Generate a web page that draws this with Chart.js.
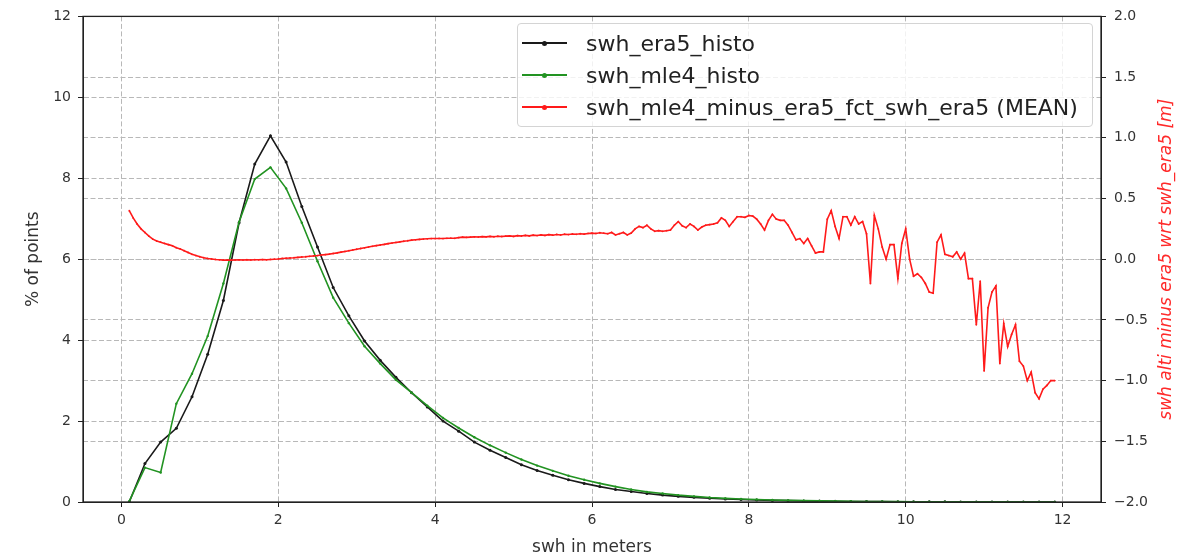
<!DOCTYPE html>
<html>
<head>
<meta charset="utf-8">
<script src="https://cdn.jsdelivr.net/npm/chart.js@4.4.1/dist/chart.umd.min.js"></script>
<style>
  html, body { margin: 0; padding: 0; background: #fff; }
  #wrap { position: relative; width: 1183px; height: 558px; }
  #legend {
    position: absolute; left: 517px; top: 23px; width: 576px; height: 104px;
    background: rgba(255,255,255,0.8); border: 1px solid #d4d4d4; border-radius: 4px;
    font-family: 'DejaVu Sans', sans-serif; font-size: 22px; color: #222;
    box-sizing: border-box;
  }
  .row { position: absolute; left: 0; height: 30px; display: flex; align-items: center; white-space: nowrap; }
  .handle { position: relative; width: 45px; height: 0; margin-left: 4px; margin-right: 19px; }
  .handle .ln { position: absolute; left: 0; right: 0; top: -0.8px; height: 1.6px; }
  .handle .dot { position: absolute; left: 20px; top: -2.5px; width: 5px; height: 5px; border-radius: 50%; }
</style>
</head>
<body>
<div id="wrap">
  <canvas id="c" width="1183" height="558"></canvas>
  <div id="legend"></div>
</div>
<script>
// Histogram bin centres (m)
const histoBins = [0.1,0.3,0.5,0.7,0.9,1.1,1.3,1.5,1.7,1.9,2.1,2.3,2.5,2.7,2.9,3.1,3.3,3.5,3.7,3.9,
  4.1,4.3,4.5,4.7,4.9,5.1,5.3,5.5,5.7,5.9,6.1,6.3,6.5,6.7,6.9,7.1,7.3,7.5,7.7,7.9,
  8.1,8.3,8.5,8.7,8.9,9.1,9.3,9.5,9.7,9.9,10.1,10.3,10.5,10.7,10.9,11.1,11.3,11.5,11.7,11.9];

// % of points per bin, ERA5 model
const swhEra5Histo = [0,0.95,1.48,1.82,2.6,3.65,4.98,6.9,8.35,9.05,8.4,7.3,6.3,5.3,4.6,3.98,3.5,3.08,2.7,2.35,
  2.0,1.75,1.48,1.28,1.1,0.92,0.78,0.66,0.55,0.46,0.38,0.31,0.26,0.21,0.17,0.14,0.115,0.095,0.075,0.06,
  0.05,0.04,0.033,0.027,0.022,0.018,0.014,0.011,0.009,0.007,0.006,0.005,0.004,0.003,0.002,0.002,0.001,0.001,0.001,0.001];

// % of points per bin, MLE4 altimetry
const swhMle4Histo = [0.02,0.85,0.73,2.43,3.17,4.1,5.4,6.92,7.98,8.27,7.75,6.9,5.95,5.05,4.42,3.85,3.42,3.02,2.7,2.38,
  2.08,1.83,1.6,1.4,1.22,1.05,0.9,0.77,0.65,0.55,0.46,0.38,0.31,0.25,0.21,0.17,0.14,0.11,0.09,0.075,
  0.06,0.05,0.04,0.033,0.027,0.022,0.018,0.014,0.011,0.009,0.007,0.006,0.005,0.004,0.003,0.002,0.002,0.001,0.001,0.001];

// Mean of (MLE4 - ERA5) in 0.05 m ERA5 bins, starting at 0.10 m
const diffBinStart = 0.1;
const diffBinStep = 0.05;
const swhDiffMean = [
  0.40,0.34,0.29,0.25,0.22,0.19,0.165,0.15,0.14,0.13,0.12,0.11,0.095,0.085,0.07,0.055,0.04,0.03,0.02,0.012,
  0.006,0.002,-0.002,-0.005,-0.008,-0.006,-0.008,-0.006,-0.005,-0.007,-0.004,-0.006,-0.004,-0.005,-0.003,-0.005,-0.002,0.0,0.002,0.006,
  0.008,0.010,0.012,0.015,0.018,0.020,0.024,0.027,0.030,0.034,0.038,0.042,0.047,0.052,0.058,0.064,0.070,0.076,0.082,0.088,
  0.094,0.100,0.106,0.112,0.117,0.122,0.128,0.133,0.138,0.143,0.148,0.152,0.157,0.160,0.163,0.166,0.168,0.170,0.170,0.171,
  0.170,0.172,0.173,0.172,0.178,0.182,0.180,0.182,0.184,0.183,0.186,0.184,0.188,0.185,0.189,0.187,0.190,0.192,0.188,0.194,
  0.191,0.196,0.192,0.198,0.195,0.200,0.196,0.202,0.198,0.204,0.200,0.206,0.203,0.208,0.205,0.210,0.207,0.212,0.215,0.212,
  0.218,0.214,0.21,0.22,0.20,0.21,0.22,0.20,0.215,0.25,0.27,0.26,0.28,0.25,0.23,0.235,0.23,0.235,0.24,0.28,
  0.31,0.275,0.26,0.29,0.27,0.24,0.265,0.28,0.285,0.29,0.30,0.34,0.32,0.27,0.31,0.35,0.35,0.345,0.36,0.355,
  0.33,0.29,0.24,0.32,0.37,0.33,0.32,0.32,0.28,0.22,0.16,0.17,0.13,0.17,0.11,0.05,0.06,0.06,0.33,0.40,
  0.27,0.17,0.35,0.35,0.28,0.35,0.29,0.31,0.21,-0.20,0.36,0.25,0.10,0.0,0.12,0.12,-0.16,0.13,0.25,0.0,
  -0.14,-0.12,-0.15,-0.20,-0.27,-0.28,0.14,0.20,0.04,0.03,0.02,0.06,0.0,0.05,-0.16,-0.16,-0.54,-0.18,-0.92,-0.40,
  -0.27,-0.22,-0.86,-0.53,-0.72,-0.62,-0.54,-0.84,-0.88,-1.0,-0.93,-1.1,-1.15,-1.07,-1.04,-1.0,-1.0
];

// Tick labels
const xTicks = [0, 2, 4, 6, 8, 10, 12];
const yLeftTicks = [0, 2, 4, 6, 8, 10, 12];
const yRightTicks = [-2.0, -1.5, -1.0, -0.5, 0.0, 0.5, 1.0, 1.5, 2.0];

const FONT = "'DejaVu Sans', sans-serif";
const GRID = '#b8b8b8';

const toPoints = (xs, ys) => ys.map((y, i) => ({ x: xs[i], y }));
const diffBins = swhDiffMean.map((_, i) => +(diffBinStart + i * diffBinStep).toFixed(2));

const datasets = [
  {
    label: 'swh_mle4_minus_era5_fct_swh_era5 (MEAN)',
    data: toPoints(diffBins, swhDiffMean),
    yAxisID: 'y1', order: 0,
    borderColor: '#ff1a1a', backgroundColor: '#ff1a1a',
    borderWidth: 1.6, pointRadius: 0.9, pointBorderWidth: 0, tension: 0
  },
  {
    label: 'swh_mle4_histo',
    data: toPoints(histoBins, swhMle4Histo),
    yAxisID: 'y', order: 1,
    borderColor: '#229322', backgroundColor: '#229322',
    borderWidth: 1.6, pointRadius: 1.2, pointBorderWidth: 0, tension: 0
  },
  {
    label: 'swh_era5_histo',
    data: toPoints(histoBins, swhEra5Histo),
    yAxisID: 'y', order: 2,
    borderColor: '#1a1a1a', backgroundColor: '#1a1a1a',
    borderWidth: 1.6, pointRadius: 1.5, pointBorderWidth: 0, tension: 0
  }
];

const fixedTicks = list => scale => { scale.ticks = list.map(v => ({ value: v })); };

// Full box around the plotting area
const framePlugin = {
  id: 'frame',
  afterDatasetsDraw(chart) {
    const { ctx, chartArea: a } = chart;
    ctx.save();
    ctx.strokeStyle = '#222';
    ctx.lineWidth = 1.3;
    ctx.strokeRect(a.left, a.top, a.right - a.left, a.bottom - a.top);
    ctx.restore();
  }
};

// Right-hand axis title, reading bottom to top
const rightTitlePlugin = {
  id: 'rightTitle',
  afterDraw(chart) {
    const { ctx, chartArea: a } = chart;
    ctx.save();
    ctx.translate(chart.width - 16, (a.top + a.bottom) / 2);
    ctx.rotate(-Math.PI / 2);
    ctx.font = 'italic 17px ' + FONT;
    ctx.fillStyle = '#ff2a2a';
    ctx.textAlign = 'center';
    ctx.textBaseline = 'middle';
    ctx.fillText('swh alti minus era5 wrt swh_era5 [m]', 0, 0);
    ctx.restore();
  }
};

const tickFont = { family: FONT, size: 14 };
const gridOpts = {
  color: GRID, lineWidth: 1, tickColor: '#222', tickLength: 5,
  tickWidth: 1, tickBorderDash: []
};

const chart = new Chart(document.getElementById('c'), {
  type: 'line',
  data: { datasets },
  options: {
    responsive: false,
    animation: false,
    parsing: true,
    layout: { padding: { top: 13, left: 0, right: 0, bottom: 0 } },
    plugins: { legend: { display: false }, tooltip: { enabled: false } },
    scales: {
      x: {
        type: 'linear', min: -0.49, max: 12.49,
        afterBuildTicks: fixedTicks(xTicks),
        afterFit: s => { s.height = 56; },
        ticks: { font: tickFont, color: '#333', padding: 5, maxRotation: 0, callback: v => String(v) },
        grid: gridOpts,
        border: { display: true, color: '#222', width: 1, dash: [5, 2.5] },
        title: { display: true, text: 'swh in meters', color: '#333',
                 font: { family: FONT, size: 17 }, padding: { top: 0, bottom: 0 } }
      },
      y: {
        type: 'linear', position: 'left', min: 0, max: 12,
        afterBuildTicks: fixedTicks(yLeftTicks),
        afterFit: s => { s.width = 83; },
        ticks: { font: tickFont, color: '#333', padding: 7, callback: v => String(v) },
        grid: gridOpts,
        border: { display: true, color: '#222', width: 1, dash: [5, 2.5] },
        title: { display: true, text: '% of points', color: '#333',
                 font: { family: FONT, size: 17 }, padding: { top: 23, bottom: 0 } }
      },
      y1: {
        type: 'linear', position: 'right', min: -2, max: 2,
        afterBuildTicks: fixedTicks(yRightTicks),
        afterFit: s => { s.width = 82; },
        ticks: { font: tickFont, color: '#333', padding: 8,
                 callback: v => (v < 0 ? '\u2212' : '') + Math.abs(v).toFixed(1) },
        grid: gridOpts,
        border: { display: true, color: '#222', width: 1, dash: [5, 2.5] }
      }
    }
  },
  plugins: [framePlugin, rightTitlePlugin]
});

// Legend box, built from the chart's own datasets
const legendOrder = ['swh_era5_histo', 'swh_mle4_histo', 'swh_mle4_minus_era5_fct_swh_era5 (MEAN)'];
const legendEl = document.getElementById('legend');
legendOrder.forEach((name, i) => {
  const ds = chart.data.datasets.find(d => d.label === name);
  const row = document.createElement('div');
  row.className = 'row';
  row.style.top = (4 + i * 32) + 'px';
  const h = document.createElement('div');
  h.className = 'handle';
  const ln = document.createElement('div');
  ln.className = 'ln';
  ln.style.background = ds.borderColor;
  const dot = document.createElement('div');
  dot.className = 'dot';
  dot.style.background = ds.borderColor;
  h.appendChild(ln); h.appendChild(dot);
  const t = document.createElement('span');
  t.textContent = name;
  row.appendChild(h); row.appendChild(t);
  legendEl.appendChild(row);
});
</script>
</body>
</html>
